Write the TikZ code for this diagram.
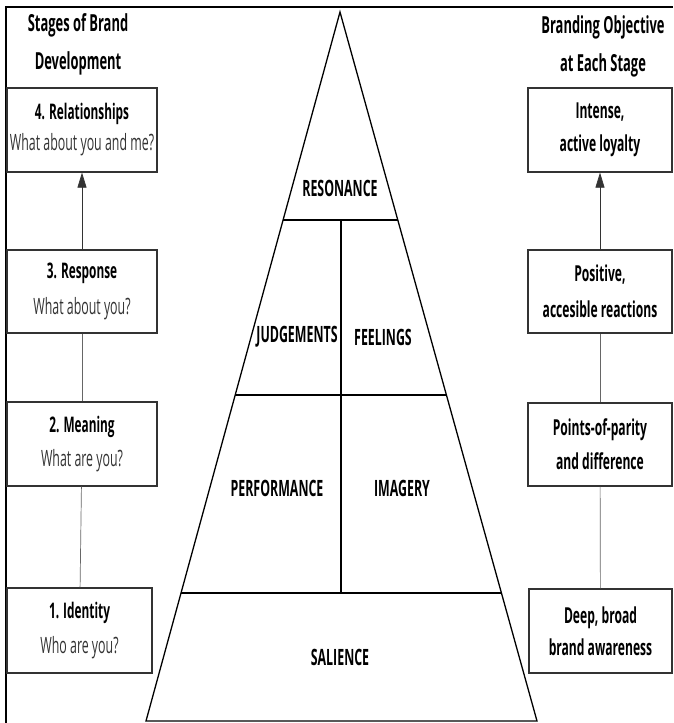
\documentclass[tikz,border=0pt]{standalone}
\usepackage{fontspec}
\setmainfont{Open Sans}[FakeStretch=0.55]
\usetikzlibrary{calc,arrows.meta}

\tikzset{
  stagebox/.style={draw=black!80, line width=1.2pt, inner sep=0pt, align=center},
  heading/.style={align=center, font=\fontsize{23.5}{38}\selectfont\bfseries},
  level/.style={font=\fontsize{22.5}{24}\selectfont\bfseries},
  link/.style={draw=black!60, line width=0.7pt},
  uparrow/.style={link, draw=black!80, -{Triangle[length=15pt,width=9pt]}}
}
\newcommand{\stagename}[1]{{\fontsize{21.5}{24}\selectfont\bfseries #1}}
\newcommand{\ask}[1]{{\fontsize{22.5}{24}\selectfont\color{black!80}#1}}

\begin{document}
\begin{tikzpicture}[x=1pt, y=-1pt]
\useasboundingbox (0,0) rectangle (673,723);

% frame
\draw[line width=2pt] (6,723) -- (6,7) -- (673,7);

% headings
\node[heading] (lefthead) at (78,44) {Stages of Brand\\Development};
\node[heading] (righthead) at (603,46) {Branding Objective\\at Each Stage};

% stages of brand development
\node[stagebox, minimum width=150, minimum height=84, font=\fontsize{22}{31}\selectfont] (relation) at (82,130)
  {\stagename{4. Relationships}\\\ask{What about you and me?}};
\node[stagebox, minimum width=150, minimum height=83, font=\fontsize{22}{36}\selectfont] (response) at (82,291.5)
  {\stagename{3. Response}\\\ask{What about you?}};
\node[stagebox, minimum width=150, minimum height=84, font=\fontsize{22}{34}\selectfont] (meaning) at (82,444)
  {\stagename{2. Meaning}\\\ask{What are you?}};
\node[stagebox, minimum width=145, minimum height=85, font=\fontsize{22}{35}\selectfont] (identity) at (79.5,630.5)
  {\stagename{1. Identity}\\\ask{Who are you?}};

% branding objectives
\node[stagebox, font=\fontsize{22}{33}\selectfont\bfseries, minimum width=144, minimum height=84] (loyalty) at (600,130)
  {Intense,\\active loyalty};
\node[stagebox, font=\fontsize{22}{36}\selectfont\bfseries, minimum width=144, minimum height=83] (reaction) at (600,291.5)
  {Positive,\\accesible reactions};
\node[stagebox, font=\fontsize{22}{34}\selectfont\bfseries, minimum width=144, minimum height=83] (parity) at (600,444.5)
  {Points-of-parity\\and difference};
\node[stagebox, font=\fontsize{22}{32}\selectfont\bfseries, minimum width=143, minimum height=84] (awareness) at (600.5,631)
  {Deep, broad\\brand awareness};

% connectors
\draw[link] (identity) -- (meaning);
\draw[link] (meaning) -- (response);
\draw[uparrow] (response) -- (relation);
\draw[link] (awareness) -- (parity);
\draw[link] (parity) -- (reaction);
\draw[uparrow] (reaction) -- (loyalty);

% pyramid
\coordinate (apex) at (340,12);
\coordinate (baseL) at (146,721);
\coordinate (baseR) at (537,721);
\draw[line width=1.3pt] (apex) -- (baseR) -- (baseL) -- cycle;
\draw[line width=1.3pt] ($(apex)!0.2934!(baseL)$) -- ($(apex)!0.2934!(baseR)$);
\draw[line width=1.3pt] ($(apex)!0.5402!(baseL)$) -- ($(apex)!0.5402!(baseR)$);
\draw[line width=1.3pt] ($(apex)!0.8195!(baseL)$) -- ($(apex)!0.8195!(baseR)$);
\draw[line width=1.1pt] (341,220) -- (341,593);

\node[level] (resonance) at (340,188) {RESONANCE};
\node[level] (judge) at (297,337) {JUDGEMENTS};
\node[level] (feel) at (383,337) {FEELINGS};
\node[level] (perform) at (277,488) {PERFORMANCE};
\node[level] (imagery) at (402,488) {IMAGERY};
\node[level] (salience) at (340,657) {SALIENCE};
\end{tikzpicture}
\end{document}
